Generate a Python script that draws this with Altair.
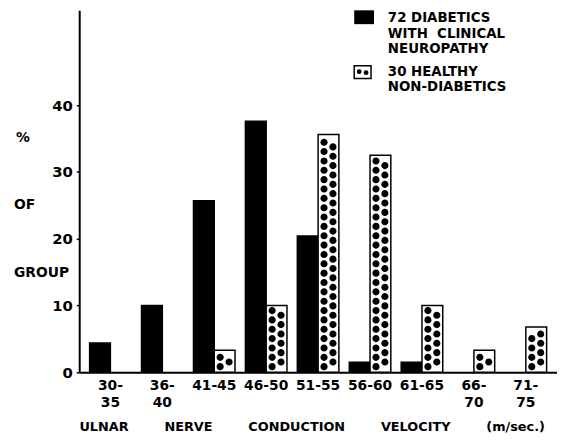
import altair as alt
import pandas as pd

categories = ["30-35", "36-40", "41-45", "46-50", "51-55", "56-60", "61-65", "66-70", "71-75"]
diabetic = [4.4, 10.0, 25.7, 37.6, 20.4, 1.5, 1.5, 0.0, 0.0]
healthy = [0.0, 0.0, 3.3, 10.0, 35.6, 32.5, 10.0, 3.3, 6.8]
groups = ["diabetic", "healthy"]
y_ticks = [0, 10, 20, 30, 40]
two_line = ["30-35", "36-40", "66-70", "71-75"]

rows = []
for c, d, h in zip(categories, diabetic, healthy):
    if d > 0:
        rows.append({"cat": c, "group": "diabetic", "value": d})
    if h > 0:
        rows.append({"cat": c, "group": "healthy", "value": h})
df = pd.DataFrame(rows)

FONT = "DejaVu Sans"
NB = "\u00a0"
x_title = (NB * 8).join(["ULNAR", "NERVE", "CONDUCTION", "VELOCITY", "(m/sec.)"])

label_expr = (
    "indexof([" + ",".join("'" + t + "'" for t in two_line) + "], datum.value) >= 0"
    " ? [substring(datum.value, 0, 3), substring(datum.value, 3)] : datum.value"
)

x_scale = alt.Scale(domain=categories, paddingInner=0.2, paddingOuter=0.2)
off_scale = alt.Scale(domain=groups, paddingInner=0, paddingOuter=0)
y_scale = alt.Scale(domain=[0, 54.2], nice=False)

x_enc = alt.X(
    "cat:N",
    sort=categories,
    scale=x_scale,
    axis=alt.Axis(
        title=x_title,
        labelExpr=label_expr,
        labelAngle=0,
        labelFont=FONT,
        labelFontWeight="bold",
        labelFontSize=14,
        labelColor="black",
        labelLineHeight=18,
        labelPadding=6,
        labelBaseline="top",
        ticks=False,
        domainColor="black",
        domainWidth=2,
        titleFont=FONT,
        titleFontWeight="bold",
        titleFontSize=13,
        titleColor="black",
        titleX=235,
        titleY=55,
        titleBaseline="middle",
        titleAlign="center",
    ),
)

y_axis = alt.Axis(
    values=y_ticks,
    grid=False,
    tickSize=3,
    tickColor="black",
    tickWidth=1.5,
    labelFont=FONT,
    labelFontWeight="bold",
    labelFontSize=15,
    labelColor="black",
    labelPadding=4,
    domainColor="black",
    domainWidth=2,
    title=None,
)

bars = alt.Chart(df).mark_bar(stroke="black", strokeWidth=1.5).encode(
    x=x_enc,
    xOffset=alt.XOffset("group:N", scale=off_scale),
    y=alt.Y("value:Q", scale=y_scale, axis=y_axis),
    fill=alt.Fill("group:N", scale=alt.Scale(domain=groups, range=["black", "white"]), legend=None),
)

# dot symbols shifted left / right inside the healthy bar (unit box -1..1)
left_dot = "M -0.81,0 A 0.36,0.36 0 1,0 -0.09,0 A 0.36,0.36 0 1,0 -0.81,0 Z"
right_dot = "M 0.09,0 A 0.36,0.36 0 1,0 0.81,0 A 0.36,0.36 0 1,0 0.09,0 Z"

dots = (
    alt.Chart(df[df["group"] == "healthy"])
    .transform_calculate(pts="sequence(0.85, datum.value - 0.5, 0.7)")
    .transform_flatten(["pts"])
    .transform_calculate(col="round((datum.pts - 0.85) / 0.7) % 2 == 0 ? 'L' : 'R'")
    .mark_point(filled=True, size=400, color="black", opacity=1, strokeWidth=0)
    .encode(
        x=alt.X("cat:N", sort=categories, scale=x_scale),
        xOffset=alt.XOffset("group:N", scale=off_scale),
        y=alt.Y("pts:Q", scale=y_scale),
        shape=alt.Shape("col:N", scale=alt.Scale(domain=["L", "R"], range=[left_dot, right_dot]), legend=None),
    )
)

one = alt.Data(values=[{}])


def word(txt, x, y):
    return alt.Chart(one).mark_text(
        text=txt, align="left", baseline="middle", font=FONT, fontWeight="bold",
        fontSize=14, color="black",
    ).encode(x=alt.value(x), y=alt.value(y))


y_title = [word("%", -64, 129), word("OF", -66, 197), word("GROUP", -66, 266)]

leg_black = alt.Chart(one).mark_rect(color="black").encode(
    x=alt.value(278), x2=alt.value(298), y=alt.value(0), y2=alt.value(14)
)
leg_black_text = alt.Chart(one).mark_text(
    text=["72 DIABETICS", "WITH" + NB * 2 + "CLINICAL", "NEUROPATHY"],
    align="left", baseline="top", font=FONT, fontWeight="bold", fontSize=13.5,
    lineHeight=15.5, color="black",
).encode(x=alt.value(312), y=alt.value(1))

leg_dot_box = alt.Chart(one).mark_rect(fill="white", stroke="black", strokeWidth=1.5).encode(
    x=alt.value(278), x2=alt.value(295), y=alt.value(56), y2=alt.value(69)
)
leg_dot1 = alt.Chart(one).mark_circle(color="black", size=24, opacity=1).encode(
    x=alt.value(283), y=alt.value(62)
)
leg_dot2 = alt.Chart(one).mark_circle(color="black", size=24, opacity=1).encode(
    x=alt.value(290), y=alt.value(63)
)
leg_dot_text = alt.Chart(one).mark_text(
    text=["30 HEALTHY", "NON-DIABETICS"],
    align="left", baseline="top", font=FONT, fontWeight="bold", fontSize=13.5,
    lineHeight=16, color="black",
).encode(x=alt.value(312), y=alt.value(55))

chart = (
    alt.layer(bars, dots, *y_title, leg_black, leg_black_text,
              leg_dot_box, leg_dot1, leg_dot2, leg_dot_text)
    .properties(
        width=483,
        height=366,
        autosize=alt.AutoSizeParams(type="none"),
        padding={"left": 72, "top": 0, "right": 0, "bottom": 62},
        background="white",
    )
    .configure_view(stroke=None)
)

chart.save("out.html", embed_options={"renderer": "svg", "actions": False})
